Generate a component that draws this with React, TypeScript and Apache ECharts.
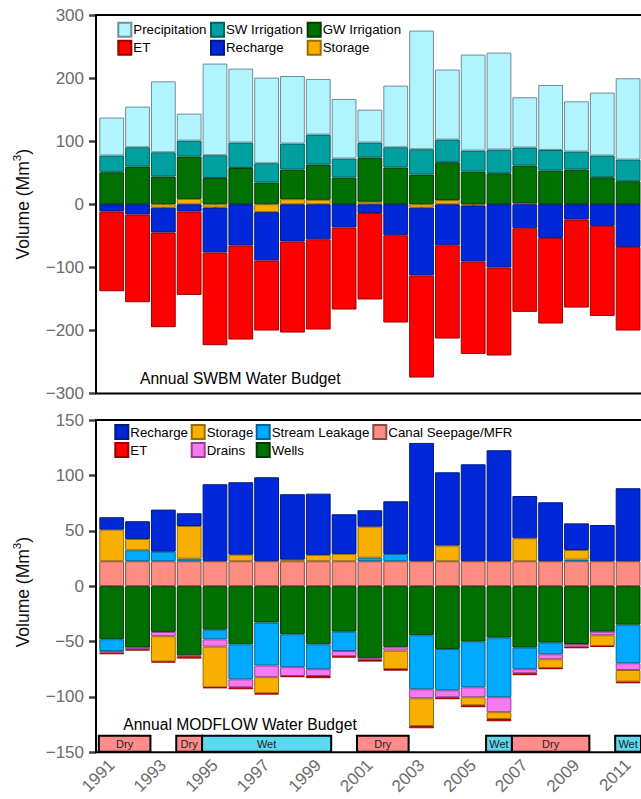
import React, { useEffect, useRef } from 'react';
import * as echarts from 'echarts';

const years = ['1991','1992','1993','1994','1995','1996','1997','1998','1999','2000','2001','2002','2003','2004','2005','2006','2007','2008','2009','2010','2011'];

// ---- Annual SWBM Water Budget (Mm3) ----
const swbmStorage = [0, 0, -5.5, 8.5, -5.3, 0, -12.5, 8, 7, 0, 4, 0, -5.5, 6.5, -2, 0, 1.5, 0, 0, 0, 0];
const swbmGW = [50.7, 59.7, 43.9, 67.1, 41.7, 57.5, 34.4, 47, 55.9, 42.3, 70, 58.2, 47, 60.1, 51.8, 49.1, 59.8, 53.4, 55, 42.8, 36.5];
const swbmSW = [26.5, 30.6, 38.5, 25.3, 36, 40.3, 30.6, 41.2, 47.5, 30.1, 23.8, 32.1, 40.2, 35.9, 33.3, 37.6, 28.6, 32.7, 28.5, 34.4, 34.3];
const swbmPrecip = [60.2, 64.5, 112.5, 42.8, 145.3, 117.2, 135.8, 107.1, 88.2, 94.5, 52.2, 97.8, 188.1, 111, 152.1, 153.7, 79.7, 103, 79.7, 99.8, 128.9];
const swbmRecharge = [-11.6, -16.3, -39.4, -11.6, -71.2, -65.5, -76.8, -59.2, -55.5, -36.9, -13.8, -49.1, -107.5, -65, -88.9, -100.4, -38, -53.4, -24.3, -34.3, -67.6];
const swbmET = [-126.3, -139, -150, -132.1, -147, -149, -110.9, -144.2, -143.1, -130, -137.2, -138.4, -161.7, -147.9, -146.3, -139.4, -132.6, -135.7, -139.5, -142.7, -132.6];

// ---- Annual MODFLOW Water Budget (Mm3) ----
const mfCanal = [22.5, 22.5, 22.5, 22.5, 22.5, 22.5, 22.5, 22.5, 22.5, 22.5, 22.5, 22.5, 22.5, 22.5, 22.5, 22.5, 22.5, 22.5, 22.5, 22.5, 22.5];
const mfWells = [-47.9, -55.5, -41.3, -62.4, -39.3, -52.5, -32.9, -43.4, -52.5, -41.1, -65.1, -55.2, -44.3, -56.7, -50.1, -46.5, -55.5, -51, -52.2, -41.1, -34.8];
const mfStream = [-10.6, 9.9, 8.6, 2.3, -8.7, -31.6, -38.8, -29.8, -22.5, -17.4, 3.2, 6.6, -48.8, -37.3, -41.2, -53.8, -19.5, -10.5, 1.5, 0, -34.8];
const mfDrains = [-1.5, -1.5, -3.9, -1, -6.6, -7.2, -10.5, -7.9, -6.1, -4.8, -1.5, -3, -8.1, -6.3, -9, -13.5, -3.6, -4.5, -2.4, -3.2, -6.1];
const mfStorage = [28.5, 10.2, -22.9, 29.5, -36.7, 5.9, -14.5, 1.4, 5.7, 6.6, 28, -16.6, -25, 14.1, -7.2, -6.1, 20.7, -7.8, 8.6, -9.7, -10.5];
const mfRecharge = [11.2, 16.0, 38.0, 11.5, 69.5, 65.4, 75.8, 59.1, 55.3, 35.8, 14.8, 47.5, 106.8, 66.2, 87.5, 100.2, 38.2, 53.2, 24.1, 32.7, 65.9];
const mfET = [-1.5, -1.2, -0.8, -2, -0.8, -1.8, -1.2, -1.1, -2, -1.2, -1.5, -1.5, -2.1, -1.8, -1.8, -2.1, -1.8, -1.2, -1.5, -0.9, -1.5];

// ---- Dry / Wet periods ----
const periodStart = ['1991', '1994', '1995', '2001', '2006', '2007', '2011'];
const periodEnd = ['1992', '1994', '1999', '2002', '2006', '2009', '2011'];
const periodType = ['Dry', 'Dry', 'Wet', 'Dry', 'Wet', 'Dry', 'Wet'];

const topTicks = [-300, 300, 100];
const botTicks = [-150, 150, 50];

const FONT = "'Liberation Sans', Arial, Helvetica, sans-serif";
const GRAY = '#6b6b6b';

const C = {
  precip: ['#B0F4FF', '#6f8f96'],
  sw: ['#00A0A0', '#005f5f'],
  gw: ['#007000', '#003a00'],
  et: ['#FF0000', '#9a0000'],
  recharge: ['#0028D8', '#001a80'],
  storage: ['#F8B000', '#9a6c00'],
  stream: ['#00AAFF', '#00659a'],
  canal: ['#FF8C80', '#8a4a44'],
  drains: ['#F57AF2', '#9a3c96'],
  dry: '#FF8C8C',
  wet: '#5CD8F0',
};

export default function App() {
  const ref = useRef<HTMLDivElement>(null);
  useEffect(() => {
    const chart = echarts.init(ref.current!, null, { renderer: 'svg' });
    const gridLeft = 98.8;
    const gridWidth = 542.4;
    const g0 = { top: 15, height: 378.5 };
    const g1 = { top: 420, height: 332.3 };

    const minusFmt = (v: number) => (v < 0 ? '\u2212' + Math.abs(v) : String(v));

    const bar = (name: string, data: number[], col: string[], axis: number, stack: string, first = false) => ({
      type: 'bar',
      name,
      data,
      stack,
      xAxisIndex: axis,
      yAxisIndex: axis,
      barCategoryGap: first ? '4%' : undefined,
      itemStyle: { color: col[0], borderColor: col[1], borderWidth: 1 },
      emphasis: { disabled: true },
    });

    const legend = (left: number, top: number, data: string[]) => ({
      orient: 'vertical',
      left,
      top,
      padding: 0,
      itemWidth: 13,
      itemHeight: 14,
      itemGap: 2,
      icon: 'rect',
      selectedMode: false,
      data,
      textStyle: { fontSize: 13.3, color: '#000', fontFamily: FONT, padding: [0, 0, 0, -3] },
    });

    const xAxisBase = (gridIndex: number, showLabel: boolean) => ({
      type: 'category',
      gridIndex,
      data: years,
      axisLine: { show: false },
      axisTick: { show: true, interval: 1, alignWithLabel: true, length: 6, lineStyle: { color: '#444', width: 2.5 } },
      axisLabel: {
        show: showLabel,
        interval: 1,
        rotate: 45,
        fontSize: 17,
        color: GRAY,
        fontFamily: FONT,
        margin: 10,
      },
      splitLine: { show: false },
    });

    const yAxisBase = (gridIndex: number, t: number[], namePad: number[]) => ({
      type: 'value',
      gridIndex,
      min: t[0],
      max: t[1],
      interval: t[2],
      offset: 2.8,
      axisLine: { show: false },
      axisTick: { show: true, length: 7, lineStyle: { color: '#444', width: 2.5 } },
      axisLabel: { fontSize: 17, color: GRAY, fontFamily: FONT, margin: 12, formatter: minusFmt },
      splitLine: { show: false },
      name: 'Volume (Mm{sup|3})',
      nameLocation: 'middle',
      nameGap: 61,
      nameTextStyle: {
        fontSize: 17.5,
        color: '#111',
        fontFamily: FONT,
        padding: namePad,
        lineHeight: 24,
        verticalAlign: 'bottom',
        rich: {
          sup: { fontSize: 11.5, color: '#111', fontFamily: FONT, verticalAlign: 'top', lineHeight: 24 },
        },
      },
    });

    const periodData = periodStart.map((s, i) => [years.indexOf(s), years.indexOf(periodEnd[i]), -135, -149.5]);

    const option: any = {
      animation: false,
      backgroundColor: '#fff',
      textStyle: { fontFamily: FONT },
      grid: [
        { left: gridLeft, width: gridWidth, top: g0.top, height: g0.height },
        { left: gridLeft, width: gridWidth, top: g1.top, height: g1.height },
      ],
      xAxis: [xAxisBase(0, false), xAxisBase(1, true)],
      yAxis: [yAxisBase(0, topTicks, [0, 0, 0, 0]), yAxisBase(1, botTicks, [0, 12, 0, 0])],
      legend: [
        legend(117.3, 21.7, ['Precipitation', 'ET']),
        legend(210, 21.7, ['SW Irrigation', 'Recharge']),
        legend(306.7, 21.7, ['GW Irrigation', 'Storage']),
        legend(114.3, 424, ['Recharge', 'ET']),
        legend(190.7, 424, ['Storage', 'Drains']),
        legend(255.7, 424, ['Stream Leakage', 'Wells']),
        legend(372.3, 424, ['Canal Seepage/MFR']),
      ],
      series: [
        bar('Storage', swbmStorage, C.storage, 0, 'swbm', true),
        bar('GW Irrigation', swbmGW, C.gw, 0, 'swbm'),
        bar('SW Irrigation', swbmSW, C.sw, 0, 'swbm'),
        bar('Precipitation', swbmPrecip, C.precip, 0, 'swbm'),
        bar('Recharge', swbmRecharge, C.recharge, 0, 'swbm'),
        bar('ET', swbmET, C.et, 0, 'swbm'),

        bar('Canal Seepage/MFR', mfCanal, C.canal, 1, 'mf', true),
        bar('Wells', mfWells, C.gw, 1, 'mf'),
        bar('Stream Leakage', mfStream, C.stream, 1, 'mf'),
        bar('Drains', mfDrains, C.drains, 1, 'mf'),
        bar('Storage', mfStorage, C.storage, 1, 'mf'),
        bar('Recharge', mfRecharge, C.recharge, 1, 'mf'),
        bar('ET', mfET, C.et, 1, 'mf'),

        {
          type: 'custom',
          name: 'periods',
          xAxisIndex: 1,
          yAxisIndex: 1,
          data: periodData,
          encode: { x: [0, 1], y: [2, 3] },
          clip: false,
          z: 10,
          renderItem: (params: any, api: any) => {
            const s = api.value(0);
            const e = api.value(1);
            const bw = api.size([1, 0])[0];
            const p0 = api.coord([s, api.value(2)]);
            const p1 = api.coord([e, api.value(3)]);
            const x0 = p0[0] - bw / 2;
            const x1 = p1[0] + bw / 2;
            const type = periodType[params.dataIndex];
            return {
              type: 'group',
              children: [
                {
                  type: 'rect',
                  shape: { x: x0, y: p0[1], width: x1 - x0, height: p1[1] - p0[1] },
                  style: { fill: type === 'Dry' ? C.dry : C.wet, stroke: '#000', lineWidth: 2 },
                },
                {
                  type: 'text',
                  style: {
                    text: type,
                    x: (x0 + x1) / 2,
                    y: (p0[1] + p1[1]) / 2,
                    align: 'center',
                    verticalAlign: 'middle',
                    fontSize: 11,
                    fontFamily: FONT,
                    fill: '#222',
                  },
                },
              ],
            };
          },
        },
      ],
      graphic: [
        {
          type: 'rect',
          silent: true,
          z: 100,
          shape: { x: 96, y: g0.top, width: 620, height: g0.height },
          style: { fill: 'none', stroke: '#000', lineWidth: 2 },
        },
        {
          type: 'rect',
          silent: true,
          z: 100,
          shape: { x: 96, y: g1.top, width: 620, height: g1.height },
          style: { fill: 'none', stroke: '#000', lineWidth: 2 },
        },
        {
          type: 'text',
          x: 140,
          y: 378.5,
          z: 100,
          style: { text: 'Annual SWBM Water Budget', fontSize: 15.6, fontFamily: FONT, fill: '#000', verticalAlign: 'middle' },
        },
        {
          type: 'text',
          x: 123.3,
          y: 724.8,
          z: 100,
          style: { text: 'Annual MODFLOW Water Budget', fontSize: 15.6, fontFamily: FONT, fill: '#000', verticalAlign: 'middle' },
        },
      ],
    };
    chart.setOption(option);
    return () => chart.dispose();
  }, []);
  return (
    <div
      ref={ref}
      style={{ position: 'fixed', left: 0, top: 0, width: 641, height: 799, overflow: 'hidden', background: '#fff' }}
    />
  );
}
